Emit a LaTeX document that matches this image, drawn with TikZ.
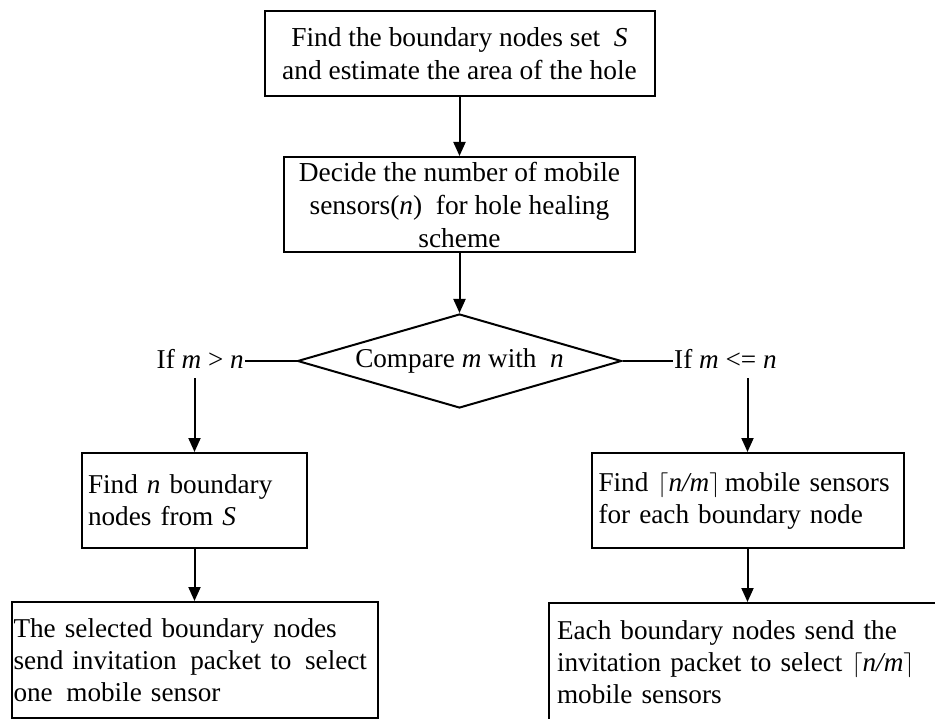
\documentclass[tikz,border=0pt]{standalone}
\usepackage{fontspec}
\setmainfont{Liberation Serif}
\usetikzlibrary{shapes.geometric,arrows.meta}
\begin{document}
\begin{tikzpicture}[x=1pt,y=-1pt,
  every node/.style={font=\fontsize{27.2}{32}\selectfont},
  cbox/.style={draw, line width=2pt, rectangle, inner sep=0pt, align=center,
    font=\fontsize{27.4}{33}\selectfont},
  lbox/.style={draw, line width=2pt, rectangle, inner ysep=0pt, align=left},
  decision/.style={draw, line width=2pt, diamond, inner sep=0pt, aspect=3.45,
    minimum width=324pt, minimum height=94pt},
  lbl/.style={inner xsep=1pt, inner ysep=0pt, text height=25pt, text depth=9pt},
  arr/.style={line width=2pt, -{Triangle[width=12pt,length=14pt]}},
  ln/.style={line width=2pt},
]
\useasboundingbox (0,0) rectangle (935,719);
\clip (0,0) rectangle (935,719);

\node[cbox, minimum width=390pt, minimum height=85pt] (top) at (459.5,53.5)
  {Find the boundary nodes set~ \textit{S}\\and estimate the area of the hole};
\node[cbox, minimum width=351pt, minimum height=95pt] (b2) at (459.5,204.5)
  {Decide the number of mobile\\sensors(\textit{n})~ for hole healing\\scheme};
\node[decision] (dia) at (459.5,361) {Compare \textit{m} with~ \textit{n}};
\node[lbl, anchor=east] (lL) at (245,361) {If \textit{m} > \textit{n}};
\node[lbl, anchor=west] (lR) at (673,361) {If \textit{m} <= \textit{n}};

\node[lbox, inner xsep=6pt, text width=213pt, minimum height=95pt] (b3) at (194.5,500.5)
  {\mbox{Find \textit{n} boundary}\\\mbox{nodes from \textit{S}}};
\node[lbox, inner xsep=2pt, text width=362pt, minimum height=116pt] (b4) at (194.5,660)
  {\mbox{The selected boundary nodes}\\\mbox{send invitation\, packet to\, select}\\\mbox{one\, mobile sensor}};
\node[lbox, inner xsep=7pt, text width=298pt, minimum height=95pt] (b5) at (747.5,500.5)
  {\mbox{Find $\lceil$\textit{n/m}$\rceil$\,mobile sensors}\\\mbox{for each boundary node}};
\node[lbox, inner xsep=8pt, text width=382pt, minimum height=119pt] (b6) at (748,662.5)
  {\mbox{Each boundary nodes send the}\\\mbox{invitation packet to select $\lceil$\textit{n/m}$\rceil$}\\\mbox{mobile sensors}};

\draw[arr] (top.south) -- (b2.north);
\draw[arr] (b2.south) -- (dia.north);
\draw[ln] (lL.east) -- (dia.west);
\draw[ln] (dia.east) -- (lR.west);
\draw[arr] (lL.south -| b3.north) -- (b3.north);
\draw[arr] (lR.south -| b5.north) -- (b5.north);
\draw[arr] (b3.south) -- (b3.south |- b4.north);
\draw[arr] (b5.south) -- (b5.south |- b6.north);
\end{tikzpicture}
\end{document}
